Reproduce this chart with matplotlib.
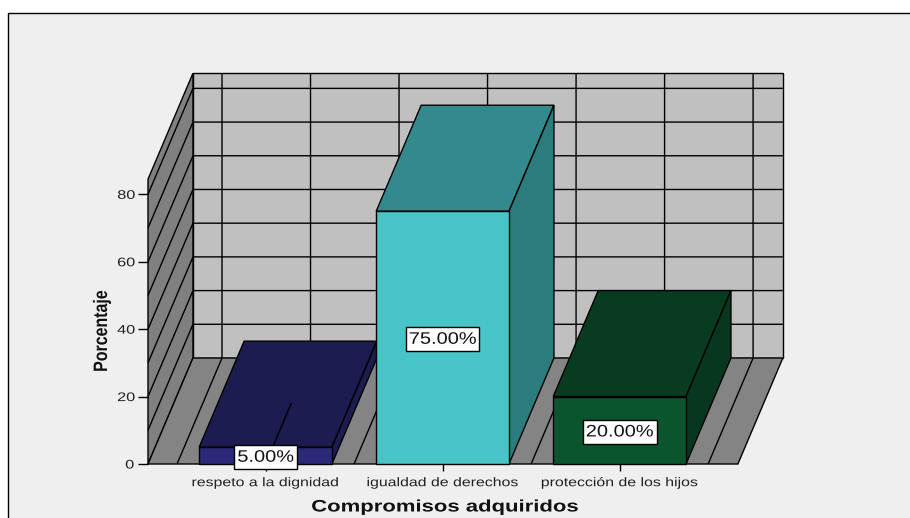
import matplotlib
matplotlib.use("Agg")
import matplotlib.pyplot as plt
from matplotlib.patches import Polygon, Rectangle
from matplotlib.path import Path
from matplotlib.patheffects import AbstractPathEffect
from matplotlib.transforms import Affine2D

categories = ["respeto a la dignidad", "igualdad de derechos", "protección de los hijos"]
values = [5, 75, 20]
value_labels = ["5.00%", "75.00%", "20.00%"]
y_ticks = [0, 20, 40, 60, 80]
grid_values = [10, 20, 30, 40, 50, 60, 70, 80]
grid_x = [-0.5, 0, 0.5, 1, 1.5, 2, 2.5]

front_colors = ["#2A2A78", "#48C3C8", "#0B552E"]
top_colors = ["#1C1C50", "#33898B", "#073C20"]
side_colors = ["#1C1C50", "#2D7C7D", "#07381F"]

plt.rcParams["font.family"] = ["Liberation Sans", "DejaVu Sans"]

W, H = 910, 518
fig = plt.figure(figsize=(W / 100, H / 100), dpi=100, facecolor="white")


# the original text is wider than any installed font, so stretch the glyphs about their centre
class Stretch(AbstractPathEffect):
    def __init__(self, sx):
        super().__init__()
        self.sx = sx

    def draw_path(self, renderer, gc, tpath, affine, rgbFace=None):
        cx = (tpath.vertices[:, 0].min() + tpath.vertices[:, 0].max()) / 2
        scale = Affine2D().translate(-cx, 0).scale(self.sx, 1).translate(cx, 0)
        renderer.draw_path(gc, tpath, scale + affine, rgbFace)


def label_box(x0, y0, width, height, mutation_size):
    padx = 0.1 * width + 3
    pady = 4.5
    return Path([(x0 - padx, y0 - pady), (x0 + width + padx, y0 - pady), (x0 + width + padx, y0 + height + pady),
                 (x0 - padx, y0 + height + pady), (x0 - padx, y0 - pady)], closed=True)


# panel runs off the right and bottom edges
fig.add_artist(Rectangle((8 / W, -0.1), 1, (H - 13) / H + 0.1, transform=fig.transFigure,
                         facecolor="#EFEFEF", edgecolor="black", linewidth=1.0, zorder=-1))

ax = fig.add_axes([148 / W, 54 / H, 592 / W, 284.8 / H])
ax.set_xlim(-0.664, 2.68)
ax.set_ylim(0, 84.5)
ax.patch.set_visible(False)
for s in ax.spines.values():
    s.set_visible(False)

# depth of the fake 3d box, in data units
dx = 0.254
dy = 31.45
x0 = ax.get_xlim()[0]
x1 = 2.668
ytop = ax.get_ylim()[1]
lw = 1.0


def poly(points, color, z):
    ax.add_patch(Polygon(points, closed=True, facecolor=color, edgecolor="black",
                         linewidth=lw, zorder=z, clip_on=False, joinstyle="miter"))


def line(xs, ys, z):
    ax.plot(xs, ys, color="black", linewidth=lw, zorder=z, clip_on=False, solid_capstyle="butt")


# walls and floor
poly([(x0 + dx, dy), (x1 + dx, dy), (x1 + dx, dy + ytop), (x0 + dx, dy + ytop)], "#C0C0C0", 1)
poly([(x0, 0), (x0 + dx, dy), (x0 + dx, dy + ytop), (x0, ytop)], "#808080", 1)
poly([(x0, 0), (x1, 0), (x1 + dx, dy), (x0 + dx, dy)], "#848484", 1)

for v in grid_values:
    line([x0, x0 + dx, x1 + dx], [v, v + dy, v + dy], 2)
for gx in grid_x:
    line([gx, gx + dx, gx + dx], [0, dy, dy + ytop], 2)

# bars
bar_w = 0.375
for i, v in enumerate(values):
    left = i - bar_w
    right = i + bar_w
    poly([(left, v), (right, v), (right + dx, v + dy), (left + dx, v + dy)], top_colors[i], 3 + i)
    poly([(right, 0), (right + dx, dy), (right + dx, v + dy), (right, v)], side_colors[i], 3 + i)
    poly([(left, 0), (right, 0), (right, v), (left, v)], front_colors[i], 3 + i)

# floor line that shows through the first bar
line([0, 0.575 * dx], [0, 0.575 * dy], 7)

for i, v in enumerate(values):
    t = ax.annotate(value_labels[i], (i, v / 2), xytext=(0, -1.2), textcoords="offset points",
                    ha="center", va="center", fontsize=12, color="#111111", zorder=8,
                    bbox=dict(boxstyle=label_box, facecolor="white", edgecolor="black", linewidth=1.0))
    t.set_path_effects([Stretch(1.2)])

ax.set_xticks(range(len(categories)))
ax.set_xticklabels(categories, fontsize=9, color="#222222")
ax.set_yticks(y_ticks)
ax.tick_params(axis="x", length=5, width=lw, pad=4.5)
ax.tick_params(axis="y", length=7.2, width=lw, labelsize=9, labelcolor="#222222", pad=3.5)
for t in ax.get_xticklabels():
    t.set_path_effects([Stretch(1.27)])
for t in ax.get_yticklabels():
    t.set_path_effects([Stretch(1.3)])

title = fig.text(444 / W, 1 - 507 / H, "Compromisos adquiridos", ha="center", va="center",
                 fontsize=12, fontweight="bold", color="#111111")
title.set_path_effects([Stretch(1.325)])
ylab = fig.text(102.5 / W, 1 - 331 / H, "Porcentaje", ha="center", va="center", rotation=90,
                fontsize=14, fontweight="bold", color="#111111")
ylab.set_path_effects([Stretch(0.82)])

fig.savefig("out.png", dpi=100, facecolor="white")
